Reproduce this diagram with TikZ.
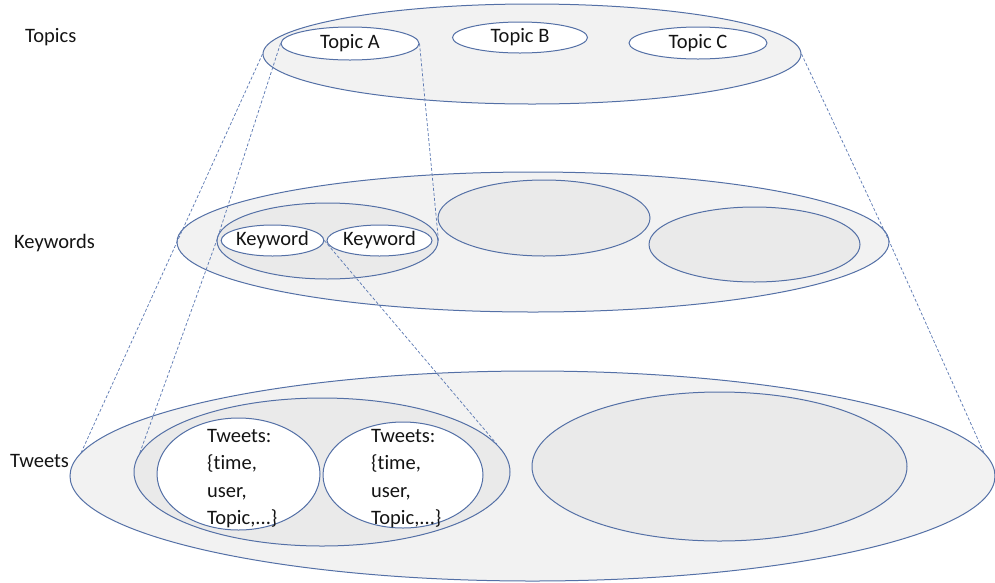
\documentclass[tikz,border=0pt]{standalone}
\usepackage{fontspec}
\setmainfont{Carlito}[RawFeature=-liga]
\usetikzlibrary{shapes.geometric}
\definecolor{edge}{RGB}{84,112,166}
\definecolor{dash}{RGB}{96,124,180}
\definecolor{fillA}{RGB}{242,242,242}
\definecolor{fillB}{RGB}{234,234,234}
\definecolor{txt}{RGB}{20,20,20}
\begin{document}
\begin{tikzpicture}[x=1pt,y=-1pt,
  every node/.style={font=\fontsize{20.5}{27.5}\selectfont, text=txt},
  oval/.style={ellipse, draw=edge, line width=1pt, inner sep=0pt},
  outer/.style={oval, fill=fillA},
  mid/.style={oval, fill=fillB},
  inner/.style={oval, fill=white},
  conn/.style={draw=dash, line width=0.75pt, dash pattern=on 3pt off 2pt},
  lbl/.style={anchor=west, inner sep=0pt}]
\useasboundingbox (0,0) rectangle (995,582);

% level labels
\node[lbl] (ltopics) at (25,37) {Topics};
\node[lbl] (lkw) at (14,243) {Keywords};
\node[lbl] (ltw) at (10,461) {Tweets};

% Topics layer
\node[outer, minimum width=538pt, minimum height=100pt] (topbig) at (532,54) {};
\node[inner, minimum width=138pt, minimum height=33pt] (topA) at (350,43.5) {Topic A};
\node[inner, minimum width=135pt, minimum height=31pt] (topB) at (520,37.5) {Topic B};
\node[inner, minimum width=138pt, minimum height=32pt] (topC) at (698,43) {Topic C};

% Keywords layer
\node[outer, minimum width=712pt, minimum height=140pt] (kwbig) at (533,242) {};
\node[mid, minimum width=221pt, minimum height=76pt] (kwgrp) at (327.5,241) {};
\node[inner, minimum width=101pt, minimum height=31pt] (kw1) at (272.5,240.5) {Keyword};
\node[inner, minimum width=105pt, minimum height=31pt] (kw2) at (379.5,240.5) {Keyword};
\node[mid, minimum width=212pt, minimum height=76pt] (kwmid) at (544,218) {};
\node[mid, minimum width=211pt, minimum height=75pt] (kwright) at (754.5,244.5) {};

% Tweets layer
\node[outer, minimum width=925pt, minimum height=210pt] (twbig) at (532.5,476) {};
\node[mid, minimum width=376pt, minimum height=148pt] (twgrp) at (322,472) {};
\node[inner, minimum width=163pt, minimum height=112pt] (tw1) at (238.5,474) {};
\node[inner, minimum width=160pt, minimum height=106pt] (tw2) at (403,475) {};
\node[mid, minimum width=375pt, minimum height=149pt] (twright) at (719.5,466.5) {};
\node[align=left, anchor=north west, inner sep=0pt] (tw1text) at (207,429) {Tweets:\\\{time,\\user,\\Topic,...\}};
\node[align=left, anchor=north west, inner sep=0pt] (tw2text) at (371,429) {Tweets:\\\{time,\\user,\\Topic,...\}};

% dashed projection lines
\draw[conn] (topbig.west) -- (twbig.177);
\draw[conn] (topA.west) -- (kwgrp.west) -- (twgrp.174);
\draw[conn] (topA.east) -- (kwgrp.east);
\draw[conn] (kw1.east) -- (twgrp.9);
\draw[conn] (topbig.east) -- (kwbig.east) -- (twbig.3);
\end{tikzpicture}
\end{document}
